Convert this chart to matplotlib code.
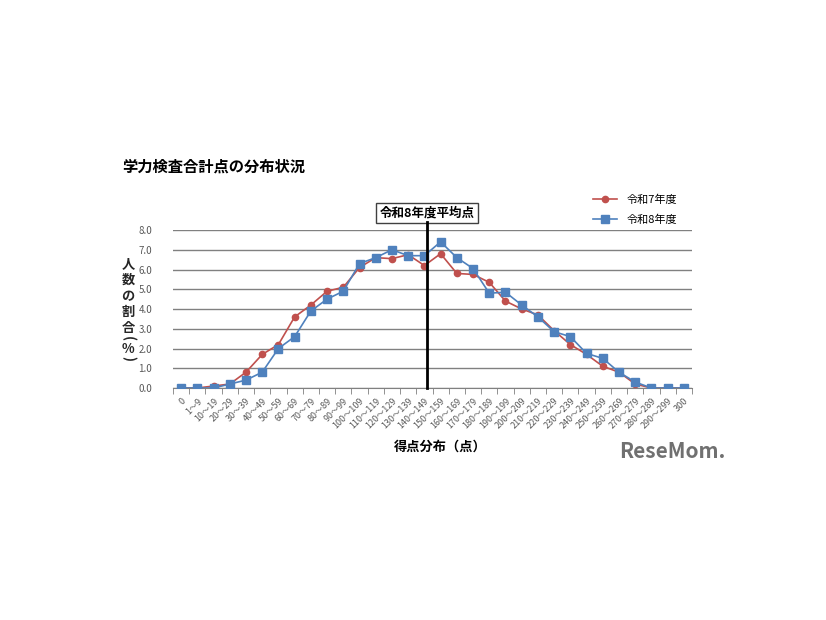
import matplotlib
matplotlib.use('Agg')
from matplotlib import pyplot as plt
from matplotlib.ticker import FixedLocator

plt.rcParams['font.family'] = ['Noto Sans CJK JP', 'DejaVu Sans']

# Daten
kategorien = ['0', '1～9'] + ['%d～%d' % (a, a + 9) for a in range(10, 300, 10)] + ['300']
reiwa7 = [0.0, 0.0, 0.1, 0.2, 0.8, 1.7, 2.2, 3.6, 4.2, 4.9, 5.1, 6.1, 6.6, 6.55, 6.75, 6.2,
          6.8, 5.8, 5.75, 5.35, 4.4, 4.0, 3.7, 2.9, 2.2, 1.7, 1.1, 0.8, 0.2, 0.0, 0.0, 0.0]
reiwa8 = [0.0, 0.0, 0.0, 0.2, 0.4, 0.8, 2.0, 2.6, 3.9, 4.5, 4.9, 6.3, 6.6, 7.0, 6.7, 6.7,
          7.4, 6.6, 6.05, 4.8, 4.85, 4.2, 3.6, 2.85, 2.6, 1.75, 1.5, 0.8, 0.3, 0.0, 0.0, 0.0]
mittel_pos = 15.17   # Lage der Linie "令和8年度平均点" (zwischen 140～149 und 150～159)

rot = '#C0504D'
blau = '#4F81BD'
grau = '#595959'

fig = plt.figure(figsize=(8.26, 6.2), dpi=100)
ax = fig.add_axes([173/826, 1-388/620, (692-173)/826, (388-230)/620])
x = list(range(len(kategorien)))

ax.plot(x, reiwa7, color=rot, lw=1.2, marker='o', ms=4.5, label='令和7年度', zorder=3)
ax.plot(x, reiwa8, color=blau, lw=1.2, marker='s', ms=5.5, label='令和8年度', zorder=4)

ax.set_xlim(-0.5, len(kategorien) - 0.5)
ax.set_ylim(0, 8)
ax.set_yticks(range(0, 9))
ax.set_yticklabels(['%.1f' % v for v in range(0, 9)], fontsize=7, color=grau)
ax.tick_params(axis='y', length=0, pad=15)
ax.yaxis.grid(True, color='#808080', lw=1.0)
ax.set_axisbelow(True)

ax.set_xticks(x)
ax.set_xticklabels(kategorien, rotation=45, ha='right', rotation_mode='anchor',
                   fontsize=6.5, color=grau)
ax.tick_params(axis='x', which='major', length=0, pad=6)
ax.xaxis.set_minor_locator(FixedLocator([i - 0.5 for i in range(len(kategorien) + 1)]))
ax.tick_params(axis='x', which='minor', length=4, color='#808080')

for s in ['top', 'right', 'left']:
   ax.spines[s].set_visible(False)
ax.spines['bottom'].set_color('#808080')

# Mittelwertlinie und Beschriftung
ax.plot([mittel_pos, mittel_pos], [0, 8.4], color='black', lw=2, clip_on=False, zorder=5)
ax.text(mittel_pos, 8.85, '令和8年度平均点', ha='center', va='center', fontsize=9,
        fontweight='bold', bbox=dict(boxstyle='square,pad=0.3', fc='white', ec='#404040', lw=1))

leg = ax.legend(loc='upper left', bbox_to_anchor=(0.79, 1.29), frameon=False, fontsize=8,
                handlelength=2.2, labelspacing=0.9)

fig.text(122/826, 1-167/620, '学力検査合計点の分布状況', fontsize=11, fontweight='bold',
         va='center', ha='left')
# senkrechte Achsenbeschriftung, Zeichen einzeln gesetzt (Klammern gedreht)
for zeichen, ypix, drehung in zip(['人', '数', 'の', '割', '合', '(', '%', ')'],
                                  [264, 280, 296, 312, 328, 339, 349, 359],
                                  [0, 0, 0, 0, 0, -90, 0, -90]):
   fig.text(128/826, 1-ypix/620, zeichen, fontsize=9.5, fontweight='bold', rotation=drehung,
            va='center', ha='center', color='#262626')
fig.text(440/826, 1-447/620, '得点分布（点）', fontsize=9.5, fontweight='bold',
         va='center', ha='center')
fig.text(672/826, 1-452/620, 'ReseMom.', fontsize=15, fontweight='bold', color='#707070',
         va='center', ha='center')

fig.savefig('out.png', dpi=100)
